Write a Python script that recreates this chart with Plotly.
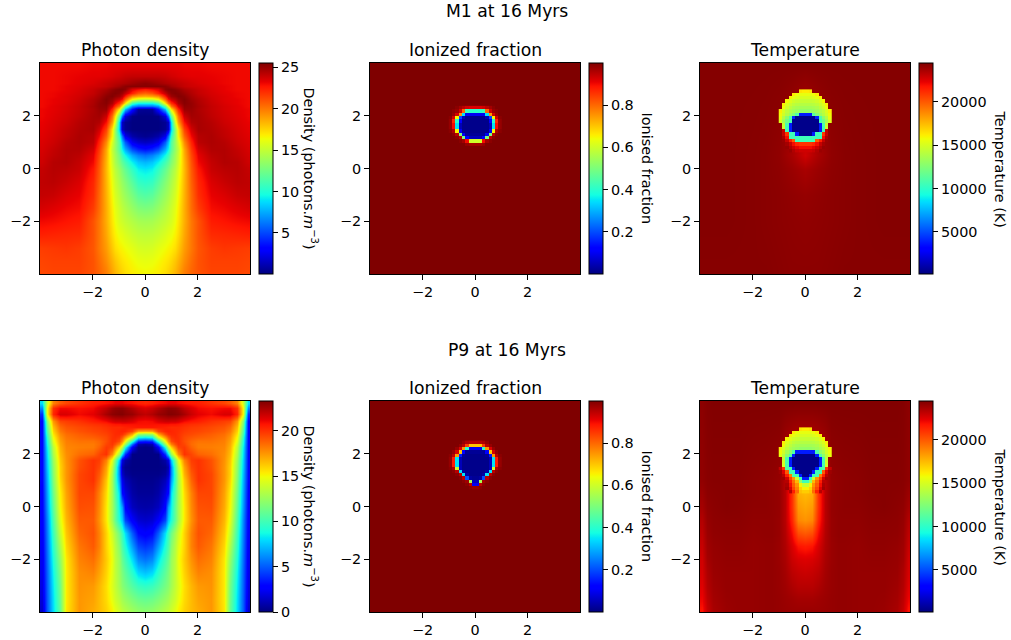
import plotly.graph_objects as go

W, H = 1011, 640
SUPTITLES = ["M1 at 16 Myrs", "P9 at 16 Myrs"]
PANEL_TITLES = ["Photon density", "Ionized fraction", "Temperature"]
CBAR_TITLES = ["Density (photons.<i>m</i><sup>−3</sup>)", "Ionised fraction", "Temperature (K)"]
AXIS_TICKS = [-2, 0, 2]
CB_TICKS_DENS_M1 = [5, 10, 15, 20, 25]
CB_TICKS_DENS_P9 = [0, 5, 10, 15, 20]
CB_TICKS_ION = [0.2, 0.4, 0.6, 0.8]
CB_TICKS_TEMP = [5000, 10000, 15000, 20000]
RANGE_DENS_M1 = (0.05, 25.5)
RANGE_DENS_P9 = (0, 23.3)
RANGE_ION = (0.0, 1.0)
RANGE_TEMP = (150, 24470)

JET = [[0, "rgb(0,0,127)"], [0.11, "rgb(0,0,255)"], [0.125, "rgb(0,0,255)"], [0.34, "rgb(0,219,255)"],
       [0.35, "rgb(0,229,247)"], [0.375, "rgb(20,255,226)"], [0.64, "rgb(238,255,8)"], [0.65, "rgb(247,246,0)"],
       [0.66, "rgb(255,236,0)"], [0.89, "rgb(255,19,0)"], [0.91, "rgb(232,0,0)"], [1, "rgb(127,0,0)"]]

# Photon density M1: half columns from the centre outward, rows from the top
DENS_M1_X = [0, .25, .5, .75, .875, 1, 1.125, 1.25, 1.5, 1.75, 2, 2.5, 3, 3.5, 3.94]
DENS_M1_Y = [3.94, 3.5, 3.25, 3.125, 3, 2.875, 2.75, 2.625, 2.5, 2.375, 2.25, 2, 1.75, 1.5, 1.25, 1, .75, .5, .25, 0,
             -.5, -1, -1.5, -2, -2.5, -3, -3.5, -3.94]
DENS_M1_Z = [
    [23.2, 23.2, 23.2, 23.2, 23.2, 23.2, 23.2, 23.2, 23.1, 23.1, 23.1, 23, 23, 23, 23],
    [24, 24, 24, 23.9, 23.8, 23.7, 23.6, 23.5, 23.4, 23.3, 23.3, 23.2, 23.1, 23, 23],
    [25.2, 25, 24.8, 24.5, 24.4, 24.3, 24.2, 24.1, 23.9, 23.7, 23.5, 23.3, 23.1, 23, 23],
    [25.3, 25.3, 25.3, 25.2, 25, 24.7, 24.5, 24.3, 24, 23.8, 23.7, 23.4, 23.2, 23, 23],
    [22.5, 23, 23.5, 25.2, 25.4, 25.4, 25.2, 25, 24.5, 24.2, 23.9, 23.5, 23.2, 23, 23],
    [20.5, 21, 22.3, 24, 24.8, 25.2, 25.4, 25.3, 24.9, 24.4, 24, 23.6, 23.3, 23.1, 23],
    [18.5, 18.8, 19.5, 22.5, 24, 24.8, 25.1, 25.4, 25.2, 24.6, 24.2, 23.7, 23.4, 23.1, 23],
    [15, 15.3, 16.5, 20.5, 22.8, 23.8, 24.4, 25, 25.4, 24.8, 24.4, 23.8, 23.4, 23.2, 23],
    [9.5, 9.5, 11, 17, 20, 22, 23.2, 24.5, 25.3, 25, 24.5, 23.9, 23.5, 23.2, 23],
    [6, 6, 7, 12, 16.5, 20, 21.8, 23.5, 25.1, 25, 24.6, 24, 23.6, 23.3, 23],
    [.5, .6, 3.5, 8, 12.5, 17, 20, 22.3, 24.9, 24.9, 24.5, 24, 23.6, 23.3, 23.1],
    [.1, .1, .2, 2, 6, 12, 17, 20.2, 23.8, 24.7, 24.6, 24.1, 23.7, 23.4, 23.1],
    [.1, .1, .1, .5, 1.5, 9, 15.5, 19, 22.8, 24.4, 24.6, 24.3, 23.8, 23.5, 23.2],
    [.1, .1, .1, .5, 1.5, 8.5, 13.5, 17, 21.5, 23.7, 24.6, 24.4, 24, 23.6, 23.3],
    [.4, .6, 1, 2.5, 6, 10.5, 13.5, 16.6, 20.5, 23, 24.3, 24.5, 24.1, 23.7, 23.4],
    [1.5, 1.8, 2.5, 5.5, 8, 11.5, 13.7, 15.6, 19.5, 22.3, 24.2, 24.5, 24.3, 23.8, 23.5],
    [3.5, 4, 5, 7.5, 9.3, 11.7, 13.6, 15, 18.7, 21.7, 23.7, 24.4, 24.4, 24, 23.6],
    [6, 6.5, 7.5, 9.5, 10.8, 12.5, 14, 15.3, 18.5, 21.3, 23.3, 24.2, 24.4, 24.1, 23.7],
    [7.8, 8.2, 9.3, 11, 11.9, 13, 14.2, 15.5, 18.3, 21, 23, 24, 24.4, 24.3, 23.8],
    [9, 9.3, 10.5, 12, 12.8, 13.7, 14.7, 15.8, 18.2, 20.8, 22.6, 23.9, 24.2, 24.3, 24],
    [10.3, 10.6, 11.7, 13, 13.6, 14.3, 15.2, 16.2, 18.3, 20.6, 22.2, 23.5, 23.9, 24.2, 24.1],
    [11.5, 11.8, 12.7, 13.7, 14.2, 14.8, 15.6, 16.5, 18.4, 20.4, 22, 23.2, 23.5, 23.9, 24],
    [12.8, 13, 13.6, 14.4, 14.8, 15.3, 16, 16.8, 18.5, 20.3, 21.6, 22.9, 23.1, 23.4, 23.6],
    [14, 14.1, 14.5, 15, 15.3, 15.6, 16.3, 17, 18.5, 20, 21, 22.5, 22.7, 22.9, 23],
    [14.8, 14.9, 15.2, 15.7, 16, 16.2, 16.7, 17.3, 18.7, 20, 21, 22.1, 22.2, 22.3, 22.4],
    [15.5, 15.6, 16, 16.4, 16.6, 16.8, 17.2, 17.8, 19, 20, 20.9, 21.6, 21.8, 21.7, 21.6],
    [16.1, 16.2, 16.5, 16.9, 17.1, 17.4, 17.9, 18.4, 19.4, 20.3, 21, 21.5, 21.5, 21.5, 21.4],
    [16.5, 16.6, 16.8, 17.2, 17.5, 17.8, 18.3, 18.8, 19.8, 20.5, 21, 21.4, 21.4, 21.4, 21.3],
]

# Photon density P9
DENS_P9_X = [0, .25, .5, .75, .875, 1, 1.125, 1.25, 1.5, 1.75, 2, 2.5, 3, 3.25, 3.5, 3.75, 3.94]
DENS_P9_Y = [3.94, 3.75, 3.5, 3.25, 3.125, 3, 2.875, 2.75, 2.625, 2.5, 2.375, 2.25, 2, 1.75, 1.5, 1.25, 1, .5, 0, -.5,
             -1, -1.5, -2, -2.5, -3, -3.5, -3.94]
DENS_P9_Z = [
    [20.3, 20.5, 20.8, 21, 21.2, 21.2, 21.2, 21, 20.8, 20.6, 20.5, 20, 19.5, 19, 18, 14, 8],
    [21.5, 21.8, 22.3, 22.8, 23, 23, 22.9, 22.7, 22, 21.5, 21, 20.8, 21, 21, 20, 15, 6],
    [22, 22.3, 22.8, 23, 23.2, 23.2, 23.1, 23, 22.5, 21.8, 21.3, 21, 21.5, 21.5, 20.3, 15, 4],
    [20.9, 21, 21.5, 21.8, 21.8, 21.7, 21.7, 21.5, 21, 20.7, 20.5, 20, 19.7, 19.5, 17.5, 12, 3],
    [20.8, 20.8, 20.8, 20.8, 20.8, 20.7, 20.7, 20.6, 20.3, 20.1, 20, 19.7, 19.4, 19, 17, 11.5, 3],
    [20.6, 20.6, 20.5, 20.4, 20.3, 20.2, 20.2, 20.2, 20, 19.8, 19.7, 19.4, 19.1, 18.6, 16.5, 11, 3],
    [17, 17.2, 19.5, 20.3, 20.4, 20.3, 20.2, 20.1, 19.8, 19.6, 19.5, 19.2, 18.8, 18.2, 16, 10.5, 3],
    [12, 12.5, 17, 19.3, 20, 20.2, 20.2, 20, 19.6, 19.4, 19.2, 18.9, 18.5, 17.8, 15.5, 10, 3],
    [8.5, 9, 14.5, 17.5, 19, 19.9, 20.1, 20, 19.4, 19.1, 18.9, 18.7, 18.3, 17.5, 15, 9.5, 3],
    [3.5, 4, 9.5, 15, 17.5, 19.3, 19.9, 20, 19.3, 18.7, 18.4, 18.4, 18.1, 17.2, 14.5, 9, 3],
    [.6, 1, 5.5, 12.5, 15.8, 18, 19.2, 19.9, 19.5, 18.6, 18.2, 18.2, 18, 17, 14, 8.7, 3],
    [.1, .2, 2.5, 9, 13.5, 16, 18, 19.5, 19.8, 18.8, 18.2, 18.1, 17.9, 16.8, 13.5, 8.4, 3],
    [.1, .1, .1, 4, 8, 12.5, 15.5, 17.8, 20, 19.5, 18.8, 18.5, 17.7, 16.5, 13, 8, 3],
    [.1, .1, .1, .8, 2, 7.5, 11.5, 14.5, 18, 19.7, 20, 19.2, 17.6, 16.2, 12.5, 7.7, 3],
    [.1, .1, .1, .3, 1, 6, 10.5, 13.5, 17.2, 19.4, 20, 19.3, 17.5, 16, 12.2, 7.5, 3],
    [.2, .2, .2, .6, 1.5, 6, 10, 13, 16.8, 19, 20, 19.5, 17.5, 16, 12, 7.2, 3],
    [.3, .3, .5, 1.2, 2.2, 6.5, 10, 12.8, 16.3, 18.7, 20, 19.5, 17.5, 15.8, 11.8, 7, 3],
    [.5, .5, .8, 2, 3, 8, 10.5, 12.8, 15.8, 18, 19.5, 19.5, 17.2, 15.3, 11.3, 6.7, 2.8],
    [.8, .9, 1.3, 2.8, 6.5, 8.5, 11, 12.8, 15.5, 17.8, 19.2, 19.3, 17, 15, 10.8, 6.4, 2.7],
    [1.5, 1.7, 2.6, 4.5, 7.5, 9, 11, 12.8, 15.5, 17.6, 19, 19, 16.7, 14.5, 10.3, 6, 2.6],
    [2.6, 3, 5, 8, 9.7, 11.3, 12.8, 14, 16, 18, 19.2, 18.7, 16.3, 13.8, 9.8, 5.8, 2.5],
    [4, 4.5, 6.5, 9, 10.3, 12, 13.3, 14.5, 16, 18, 19, 18.3, 15.9, 13, 9.4, 5.6, 2.4],
    [5.5, 6, 8, 10, 11, 12.5, 13.5, 14.8, 16.2, 17.6, 18.5, 18, 15.5, 12.3, 9, 5.4, 2.3],
    [7.3, 7.8, 9.3, 10.8, 11.6, 12.6, 13.6, 14.6, 16, 17.2, 18, 17.7, 15.4, 11.8, 8.6, 5.2, 2.2],
    [9.5, 9.8, 10.5, 11.5, 12, 12.8, 13.7, 14.4, 15.7, 16.7, 17.4, 17.6, 15.4, 11.4, 8.3, 5.1, 2],
    [11, 11.2, 11.7, 12.4, 12.8, 13.4, 14, 14.7, 15.8, 16.6, 17.2, 17.5, 15.4, 11.2, 8.1, 5, 1.8],
    [12, 12.2, 12.6, 13.2, 13.5, 14, 14.6, 15.2, 16, 16.6, 17, 17.5, 15.5, 11, 8, 5, 1.5],
]

# Ionised fraction: flat background, then the cells of the bubble (row index top first, from centre column outward)
ION_BG_X = [0, 4]
ION_BG_Y = [4, -4]
ION_BG_Z = [[1, 1], [1, 1]]
ION_M1_TOP_ROW = 18
ION_M1_CELLS = [
    [.92, .92, .93, .95, .97, .99],
    [.4, .4, .42, .8, .93, .98, .99],
    [.1, .1, .1, .35, .75, .93, .98],
    [.01, .01, .01, .05, .2, .65, .93, .99],
    [.01, .01, .01, .01, .12, .4, .87, .98],
    [.01, .01, .01, .01, .05, .35, .9, .98],
    [.01, .01, .01, .01, .05, .35, .9, .98],
    [.01, .01, .01, .01, .1, .65, .96, .99],
    [.02, .02, .02, .1, .5, .95, .99],
    [.05, .05, .12, .5, .95, .99],
    [.6, .6, .9, .97, .99],
    [.97, .97, .98],
]
ION_P9_TOP_ROW = 19
ION_P9_CELLS = [
    [.95, .95, .96, .98],
    [.7, .7, .85, .95, .98],
    [.1, .1, .4, .75, .92, .98],
    [.02, .02, .02, .12, .7, .93, .98],
    [.01, .01, .01, .02, .15, .75, .95, .99],
    [.01, .01, .01, .01, .05, .35, .88, .98],
    [.01, .01, .01, .01, .05, .35, .88, .98],
    [.01, .01, .01, .01, .05, .35, .88, .98],
    [.01, .01, .01, .01, .05, .6, .96, .99],
    [.01, .01, .01, .03, .35, .95, .99],
    [.01, .01, .03, .35, .95, .99],
    [.02, .03, .2, .95, .99],
    [.05, .55, .97, .99],
    [.1, .95, .99],
    [.98, .99],
]

# Temperature: smooth background and the cells of the bubble
TEMP_M1_X = [0, .5, 1, 1.5, 2, 3, 3.94]
TEMP_M1_Y = [3.94, .5, 0, -1, -2, -3.94]
TEMP_M1_Z = [
    [24350, 24350, 24350, 24350, 24350, 24350, 24350],
    [22800, 23600, 24100, 24250, 24300, 24350, 24350],
    [23600, 23900, 24150, 24250, 24300, 24350, 24350],
    [24000, 24100, 24200, 24250, 24300, 24350, 24350],
    [24100, 24150, 24200, 24250, 24300, 24350, 24350],
    [24200, 24200, 24250, 24300, 24300, 24300, 24300],
]
TEMP_M1_TOP_ROW = 23
TEMP_M1_CELLS = [
    [16200, 16400],
    [15500, 15500, 15700, 16200],
    [15000, 15000, 15200, 15500, 16100],
    [14500, 14500, 14600, 14800, 15200, 15900],
    [14000, 14000, 14100, 14300, 14700, 15200, 16100],
    [13500, 13500, 13600, 13800, 14200, 14800, 15800],
    [13000, 13000, 13200, 13400, 13800, 14300, 15100, 16100],
    [3800, 3800, 11000, 12500, 13300, 14000, 14800, 15800],
    [400, 400, 400, 4000, 11000, 12800, 14000, 15500],
    [400, 400, 400, 400, 10800, 12000, 13500, 15200],
    [400, 400, 400, 400, 3800, 10800, 14500],
    [400, 400, 400, 400, 3800, 10500, 14800],
    [400, 400, 400, 400, 3800, 10500, 23000],
    [400, 400, 3800, 10500, 10500, 21000, 23000],
    [10500, 10500, 10500, 10500, 10500, 22000, 23600],
    [10500, 10500, 10500, 20000, 21500, 23000, 23900],
    [21000, 21000, 21300, 22000, 23000, 23700],
    [22000, 22000, 22300, 22900, 23500, 24000],
    [22800, 22800, 23000, 23400, 23900],
]
TEMP_P9_X = [0, .25, .5, .75, 1, 1.25, 1.5, 2, 2.5, 3, 3.5, 3.75, 3.94]
TEMP_P9_Y = [3.94, 1, .5, 0, -.5, -1, -1.5, -2, -2.5, -3, -3.5, -3.94]
TEMP_P9_Z = [
    [24400, 24400, 24400, 24400, 24400, 24400, 24400, 24400, 24400, 24400, 24400, 24350, 24200],
    [22500, 22500, 22800, 23300, 24000, 24100, 24150, 24200, 24300, 24300, 24300, 24250, 24100],
    [17500, 17800, 21000, 23300, 24000, 24100, 24150, 24200, 24300, 24300, 24250, 24200, 23900],
    [18000, 18300, 21000, 23300, 24000, 24100, 24150, 24150, 24250, 24300, 24200, 24100, 23700],
    [18500, 18800, 21300, 23300, 23950, 24100, 24100, 24100, 24200, 24200, 24150, 24000, 23400],
    [20000, 20300, 22000, 23400, 23950, 24100, 24100, 24050, 24150, 24150, 24100, 23900, 23200],
    [21600, 21800, 22600, 23500, 23900, 24050, 24050, 24000, 24100, 24100, 24000, 23800, 23000],
    [22500, 22600, 22900, 23600, 23900, 24050, 24050, 24000, 24050, 24050, 23950, 23700, 22800],
    [22900, 23000, 23200, 23700, 23950, 24050, 24050, 24000, 24000, 24000, 23900, 23500, 22700],
    [23300, 23300, 23500, 23800, 23950, 24050, 24050, 24000, 24000, 24000, 23800, 23400, 22500],
    [23700, 23700, 23800, 23900, 24000, 24050, 24050, 24000, 24000, 23950, 23700, 23200, 22200],
    [23900, 23900, 23900, 23950, 24000, 24050, 24050, 24000, 24000, 23900, 23600, 23000, 21800],
]
TEMP_P9_TOP_ROW = 23
TEMP_P9_CELLS = [
    [16200, 16400],
    [15500, 15500, 15700, 16200],
    [15000, 15000, 15200, 15500, 16100],
    [14500, 14500, 14600, 14800, 15200, 15900],
    [14000, 14000, 14100, 14300, 14700, 15200, 16100],
    [13500, 13500, 13600, 13800, 14200, 14800, 15800],
    [13000, 13000, 13200, 13400, 13800, 14300, 15100, 16100],
    [3800, 3800, 3800, 11000, 12800, 13600, 14800, 15800],
    [400, 400, 400, 3800, 11000, 12800, 14200, 15500],
    [400, 400, 400, 400, 3800, 10800, 14500],
    [400, 400, 400, 400, 3800, 10800, 14800],
    [400, 400, 400, 400, 3800, 10800, 15000],
    [400, 400, 400, 3800, 10500, 11000, 21000, 23000],
    [400, 400, 3800, 10500, 10500, 20000, 22500, 23800],
    [400, 3800, 10500, 10800, 19000, 21500, 23300],
    [3800, 10500, 14500, 18500, 20500, 22800, 23800],
    [10500, 13000, 17500, 19500, 21500, 23300],
    [14500, 16000, 18500, 20000, 22000, 23600],
    [16000, 16800, 19000, 20500, 22500, 23800],
    [17000, 17300, 19500, 21500, 23300],
]

CELL = 0.125
FONT = "DejaVu Sans"
TICK_SIZE = 14.4
TITLE_SIZE = 17.2

AX_LEFT = [40, 370, 700]
AX_WIDTH = 210
CB_LEFT = [258.5, 588.5, 919]
CB_WIDTH = 14
AX_TOP = [63, 401]
AX_HEIGHT = 211
SUP_Y = [11, 350]
TITLE_Y = [50, 387.5]
CB_TITLE_X = [311, 647, 1000]


def mirror_cols(vals):
    return [-v for v in vals[:0:-1]] + vals


def mirror_rows(z):
    return [r[:0:-1] + r for r in z]


def cells_to_grid(cells, top_row):
    n = max(len(r) for r in cells)
    rows = [r + [None] * (n - len(r)) for r in cells]
    z = [r[::-1] + r for r in rows][::-1]
    x = [(i + 0.5) * CELL for i in range(-n, n)]
    y = [(top_row - len(cells) + 1 + j + 0.5) * CELL for j in range(len(cells))]
    return x, y, z


fig = go.Figure()
panels = [
    (0, 0, DENS_M1_X, DENS_M1_Y, DENS_M1_Z, None, None, RANGE_DENS_M1, CB_TICKS_DENS_M1),
    (0, 1, ION_BG_X, ION_BG_Y, ION_BG_Z, ION_M1_CELLS, ION_M1_TOP_ROW, RANGE_ION, CB_TICKS_ION),
    (0, 2, TEMP_M1_X, TEMP_M1_Y, TEMP_M1_Z, TEMP_M1_CELLS, TEMP_M1_TOP_ROW, RANGE_TEMP, CB_TICKS_TEMP),
    (1, 0, DENS_P9_X, DENS_P9_Y, DENS_P9_Z, None, None, RANGE_DENS_P9, CB_TICKS_DENS_P9),
    (1, 1, ION_BG_X, ION_BG_Y, ION_BG_Z, ION_P9_CELLS, ION_P9_TOP_ROW, RANGE_ION, CB_TICKS_ION),
    (1, 2, TEMP_P9_X, TEMP_P9_Y, TEMP_P9_Z, TEMP_P9_CELLS, TEMP_P9_TOP_ROW, RANGE_TEMP, CB_TICKS_TEMP),
]

layout_axes = {}
annotations = []
for idx, (r, c, xs, ys, z, cells, top, zr, cbt) in enumerate(panels):
    n = idx + 1
    xa = f"x{n}" if n > 1 else "x"
    ya = f"y{n}" if n > 1 else "y"
    xkey = f"xaxis{n}" if n > 1 else "xaxis"
    ykey = f"yaxis{n}" if n > 1 else "yaxis"
    fig.add_trace(go.Heatmap(
        x=mirror_cols(xs), y=ys[::-1], z=mirror_rows(z)[::-1], zsmooth="best",
        zmin=zr[0], zmax=zr[1], colorscale=JET, xaxis=xa, yaxis=ya, hoverinfo="skip",
        colorbar=dict(
            x=CB_LEFT[c] / W, xanchor="left", xpad=0, ypad=0,
            y=1 - AX_TOP[r] / H, yanchor="top", len=AX_HEIGHT / H, lenmode="fraction",
            thickness=CB_WIDTH, thicknessmode="pixels", outlinecolor="black", outlinewidth=1,
            tickmode="array", tickvals=cbt, ticktext=[str(v) for v in cbt], ticks="outside", ticklen=5, tickwidth=1,
            tickcolor="black", tickfont=dict(family=FONT, size=TICK_SIZE, color="black"),
        ),
    ))
    if cells is not None:
        px, py, pz = cells_to_grid(cells, top)
        fig.add_trace(go.Heatmap(x=px, y=py, z=pz, zmin=zr[0], zmax=zr[1], colorscale=JET, showscale=False,
                                 xaxis=xa, yaxis=ya, hoverinfo="skip"))
    common = dict(range=[-4, 4], tickmode="array", tickvals=AXIS_TICKS, ticks="outside", ticklen=5, tickwidth=1,
                  tickcolor="black", showgrid=False, zeroline=False, showline=True, mirror=True, linecolor="black",
                  linewidth=1, tickfont=dict(family=FONT, size=TICK_SIZE, color="black"))
    layout_axes[xkey] = dict(domain=[AX_LEFT[c] / W, (AX_LEFT[c] + AX_WIDTH) / W], anchor=ya, **common)
    layout_axes[ykey] = dict(domain=[1 - (AX_TOP[r] + AX_HEIGHT) / H, 1 - AX_TOP[r] / H], anchor=xa, **common)
    annotations.append(dict(text=PANEL_TITLES[c], xref="paper", yref="paper", x=(AX_LEFT[c] + AX_WIDTH / 2) / W,
                            y=1 - TITLE_Y[r] / H, xanchor="center", yanchor="middle", showarrow=False,
                            font=dict(family=FONT, size=TITLE_SIZE, color="black")))
    annotations.append(dict(text=CBAR_TITLES[c], xref="paper", yref="paper", x=CB_TITLE_X[c] / W,
                            y=1 - (AX_TOP[r] + AX_HEIGHT / 2) / H, xanchor="center", yanchor="middle",
                            textangle=90, showarrow=False,
                            font=dict(family=FONT, size=TICK_SIZE, color="black")))

for r in range(2):
    annotations.append(dict(text=SUPTITLES[r], xref="paper", yref="paper", x=507 / W, y=1 - SUP_Y[r] / H,
                            xanchor="center", yanchor="middle", showarrow=False,
                            font=dict(family=FONT, size=TITLE_SIZE, color="black")))

fig.update_layout(width=W, height=H, margin=dict(l=0, r=0, t=0, b=0), paper_bgcolor="white", plot_bgcolor="white",
                  annotations=annotations, showlegend=False, **layout_axes)
fig.write_html("out.html", config=dict(displayModeBar=False),
               post_script="document.body.style.margin='0';document.body.style.overflow='hidden';")
